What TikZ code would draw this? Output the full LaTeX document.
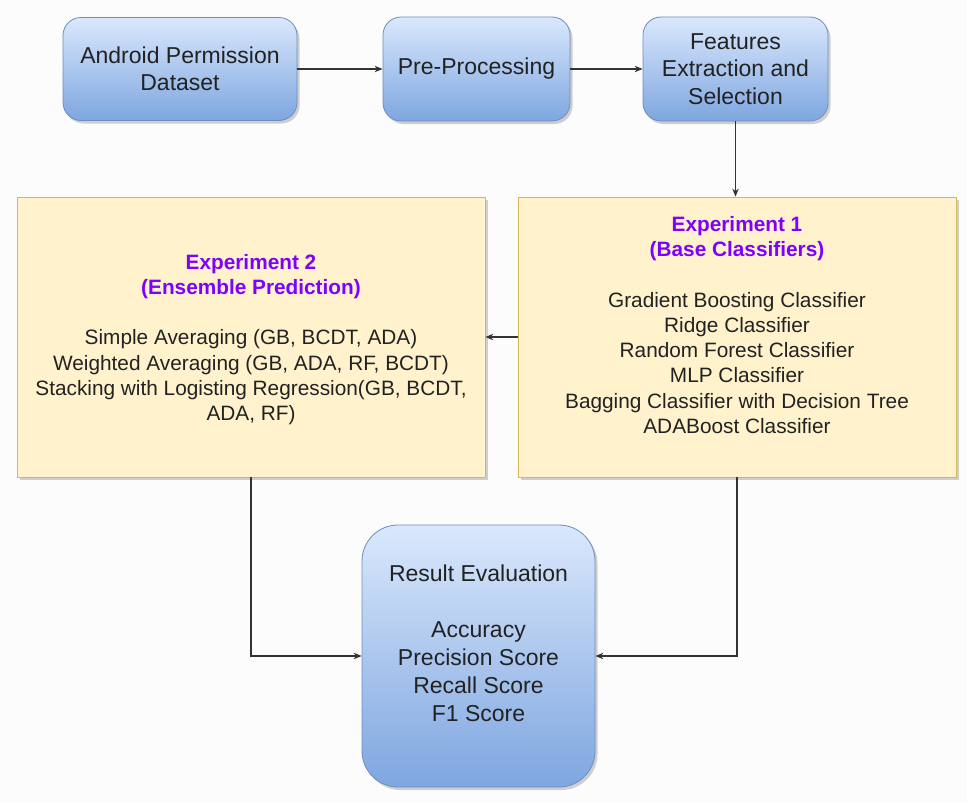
\documentclass[tikz,border=0pt]{standalone}
\usepackage{fontspec}
\setmainfont{Liberation Sans}
\usetikzlibrary{shadows,arrows.meta,calc}
\definecolor{bgcolor}{HTML}{FCFCFC}
\definecolor{bluetop}{HTML}{DAE8FC}
\definecolor{bluebot}{HTML}{7EA6E0}
\definecolor{blueline}{HTML}{6C8EBF}
\definecolor{yellowfill}{HTML}{FFF2CC}
\definecolor{yellowline}{HTML}{D6B656}
\definecolor{titlepurple}{HTML}{7F00FF}
\definecolor{linkgray}{HTML}{333333}
\definecolor{textgray}{HTML}{222222}
\begin{document}
\begin{tikzpicture}[x=1pt,y=-1pt,
  boxshadow/.style={drop shadow={shadow xshift=2.5pt,shadow yshift=-3pt,opacity=0.3,fill=black!60}},
  bluebox/.style={draw=blueline, line width=0.8pt, top color=bluetop, bottom color=bluebot,
    rounded corners=18pt, boxshadow, align=center, text=textgray,
    font=\fontsize{23}{27.5}\selectfont, inner sep=0pt},
  yellowbox/.style={draw=yellowline, line width=0.8pt, fill=yellowfill, boxshadow, inner sep=0pt},
  boxtext/.style={align=center, text=textgray, font=\fontsize{20.8}{25.25}\selectfont},
  resulttext/.style={align=center, text=textgray, font=\fontsize{23}{28}\selectfont},
  link/.style={draw=linkgray, line width=1.1pt, -{Stealth[length=8pt,width=6.5pt]}}
]
% canvas
\fill[bgcolor] (0,0) rectangle (967,803);
\useasboundingbox (0,0) rectangle (967,803);

% pipeline stages
\node[bluebox, minimum width=234pt, minimum height=103pt] (ds) at (180,69) {Android Permission\\Dataset};
\node[bluebox, minimum width=187pt, minimum height=104pt] (pp) at (476.5,69) {Pre-Processing};
\node[bluebox, minimum width=185pt, minimum height=104pt] (fe) at (735.5,69) {Features\\Extraction and\\Selection};

% experiment panels
\node[yellowbox, minimum width=468pt, minimum height=280pt] (e2) at (251,337) {};
\node[boxtext] (e2text) at (251,339.5) {{\color{titlepurple}\bfseries Experiment 2}\\
  {\color{titlepurple}\bfseries (Ensemble Prediction)}\\[25pt]
  Simple Averaging (GB, BCDT, ADA)\\
  Weighted Averaging (GB, ADA, RF, BCDT)\\
  Stacking with Logisting Regression(GB, BCDT,\\
  ADA, RF)};

\node[yellowbox, minimum width=438pt, minimum height=280pt] (e1) at (737,337) {};
\node[boxtext] (e1text) at (737,325) {{\color{titlepurple}\bfseries Experiment 1}\\
  {\color{titlepurple}\bfseries (Base Classifiers)}\\[25.25pt]
  Gradient Boosting Classifier\\
  Ridge Classifier\\
  Random Forest Classifier\\
  MLP Classifier\\
  Bagging Classifier with Decision Tree\\
  ADABoost Classifier};

% evaluation
\node[bluebox, rounded corners=36pt, minimum width=233pt, minimum height=262pt] (re) at (478.5,656) {};
\node[resulttext] (retext) at (478.5,643) {Result Evaluation\\[28pt]
  Accuracy\\
  Precision Score\\
  Recall Score\\
  F1 Score};

% connectors
\draw[link] (ds.east) -- (pp.west);
\draw[link] (pp.east) -- (fe.west);
\draw[link] (fe.south) -- (fe.south |- e1.north);
\draw[link] (e1.west) -- (e2.east);
\draw[link] (e2.south) |- (re.west);
\draw[link] (e1.south) |- (re.east);
\end{tikzpicture}
\end{document}
